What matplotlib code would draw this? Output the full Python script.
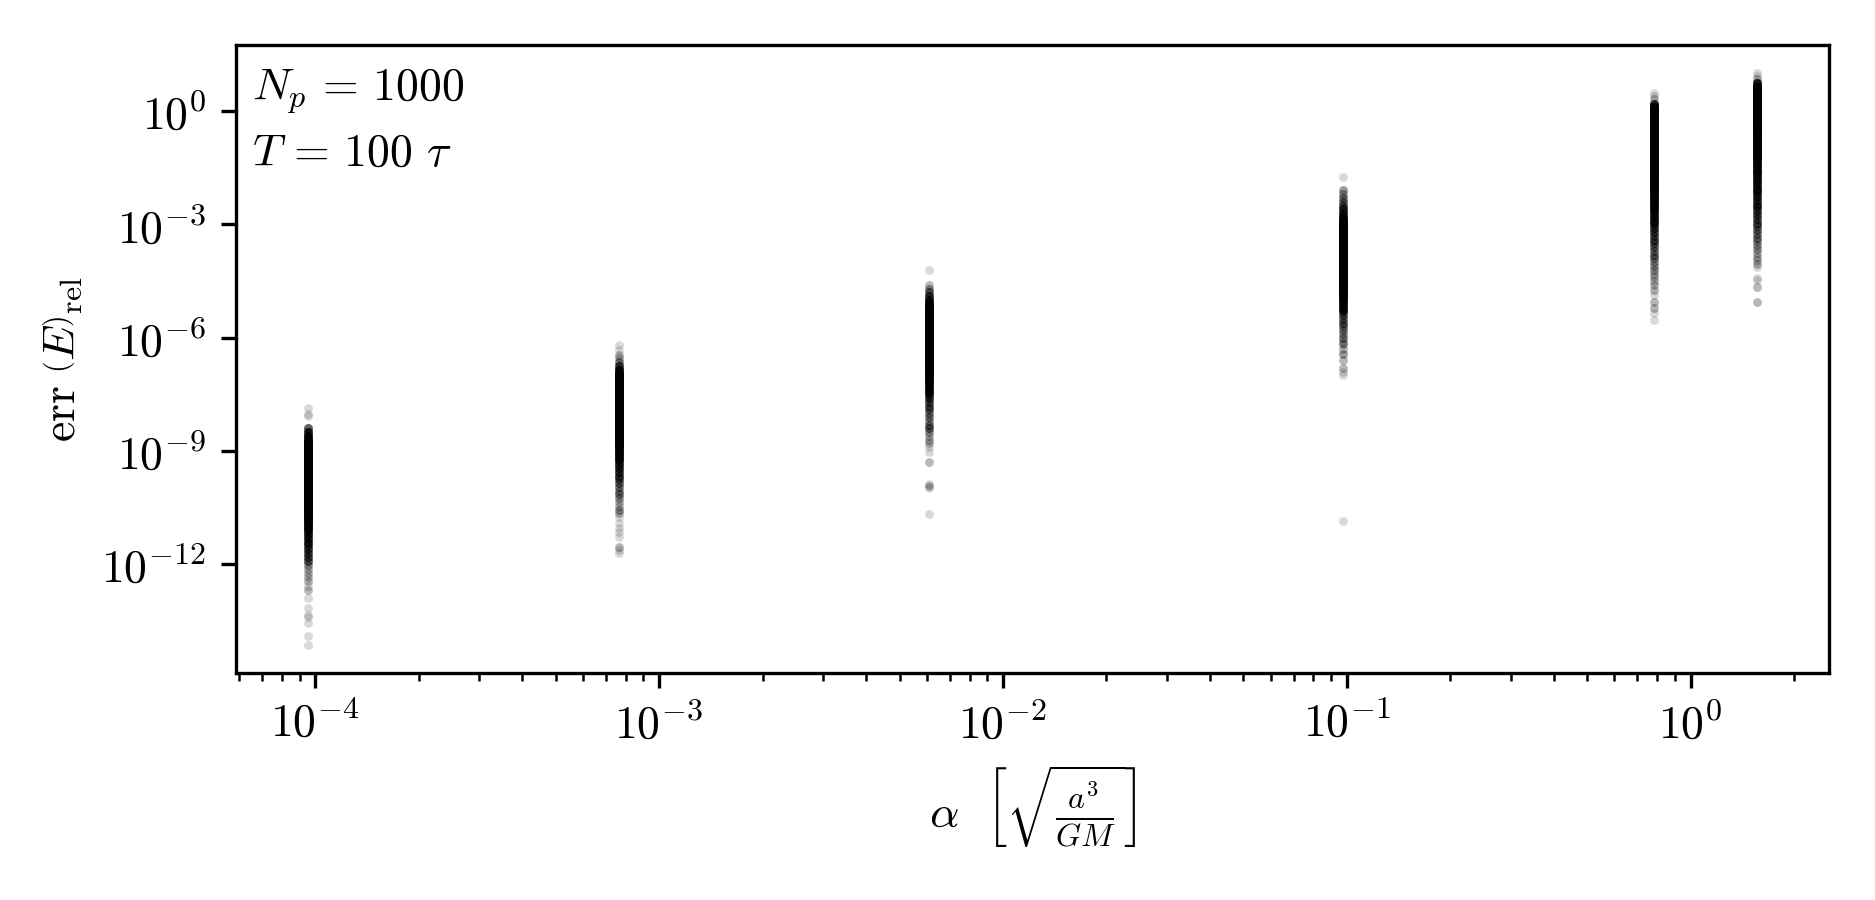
import numpy as np
import matplotlib
matplotlib.use("Agg")
import matplotlib.pyplot as plt
from matplotlib.ticker import FixedLocator, NullLocator

plt.rcParams['font.family'] = 'serif'
plt.rcParams['font.serif'] = ['cmr10']
plt.rcParams['mathtext.fontset'] = 'cm'
plt.rcParams['axes.formatter.use_mathtext'] = True
plt.rcParams['axes.unicode_minus'] = False
plt.rcParams['font.size'] = 11

# pas de temps alpha (en unites de sqrt(a^3/GM))
ALPHAS = [9.5367431640625e-05, 7.62939453125e-04, 6.103515625e-03,
          9.765625e-02, 0.78125, 1.5625]

# log10 de l'erreur relative sur l'energie, et nombre de particules
logs1 = [-7.87, -8.02, -8.06,
         -8.40, -8.50, -8.60, -8.70, -8.80, -8.90, -9.00, -9.10, -9.20,
         -9.30, -9.40, -9.50, -9.60, -9.70, -9.80, -9.90, -10.00, -10.10,
         -10.20, -10.30, -10.40, -10.50, -10.60, -10.70, -10.80, -10.90,
         -11.00, -11.10, -11.20, -11.30, -11.40, -11.50, -11.60, -11.70,
         -11.80, -11.90,
         -12.02, -12.12, -12.22, -12.33, -12.45, -12.58, -12.68, -12.90,
         -13.15, -13.33, -13.40, -13.55, -13.90, -14.14]
counts1 = [1, 1, 1,
           6, 10, 14, 18, 22, 26, 30, 34, 38, 40, 42, 44, 45, 45, 45, 44,
           42, 40, 38, 36, 33, 30, 27, 24, 21, 18, 15, 13, 11, 10, 9, 8, 8,
           7, 7, 6,
           3, 2, 2, 2, 2, 1, 2, 1, 1, 1, 1, 1, 1, 1]

logs2 = [-6.20, -6.32, -6.45, -6.55, -6.65,
         -6.75, -6.85, -6.95, -7.05, -7.15, -7.25, -7.35, -7.45, -7.55,
         -7.65, -7.75, -7.85, -7.95, -8.05, -8.15, -8.25, -8.35, -8.45,
         -8.55, -8.65, -8.75, -8.85, -8.95, -9.05, -9.15, -9.25, -9.35,
         -9.45, -9.55, -9.65, -9.75,
         -9.85, -9.95, -10.05, -10.15, -10.25, -10.35, -10.45, -10.55,
         -10.65, -10.75, -10.90, -11.05, -11.15, -11.28, -11.55, -11.62,
         -11.70]
counts2 = [1, 1, 2, 2, 4,
           8, 14, 20, 26, 32, 38, 42, 45, 48, 50, 50, 50, 48, 46, 43, 40,
           37, 34, 30, 27, 24, 21, 18, 16, 14, 12, 10, 9, 8, 7, 6,
           5, 4, 3, 4, 3, 2, 2, 3, 2, 1, 1, 1, 1, 1, 2, 1, 1]

logs3 = [-4.21, -4.60, -4.70, -4.80, -4.90,
         -5.00, -5.10, -5.20, -5.30, -5.40, -5.50, -5.60, -5.70, -5.80,
         -5.90, -6.00, -6.10, -6.20, -6.30, -6.40, -6.50, -6.60, -6.70,
         -6.80, -6.90, -7.00, -7.10, -7.20, -7.30, -7.40, -7.50, -7.60,
         -7.70, -7.80, -7.90, -8.00, -8.10, -8.20, -8.30, -8.40, -8.50,
         -8.60, -8.70, -8.80, -8.90, -9.03, -9.29, -9.86, -9.92, -9.99,
         -10.66]
counts3 = [1, 2, 3, 5, 8,
           12, 18, 24, 30, 36, 42, 46, 50, 52, 54, 54, 53, 51, 48, 45, 42,
           38, 34, 30, 26, 22, 19, 16, 14, 12, 10, 8,
           6, 5, 5, 4, 4, 3, 4, 5, 3, 2, 2, 2, 1, 1, 2, 1, 2, 1, 1]

logs4 = [-1.75,
         -2.10, -2.20, -2.30, -2.40, -2.50, -2.60, -2.70,
         -2.80, -2.90, -3.00, -3.10, -3.20, -3.30, -3.40, -3.50, -3.60,
         -3.70, -3.80, -3.90, -4.00, -4.10, -4.20, -4.30, -4.40, -4.50,
         -4.60, -4.70, -4.80, -4.90, -5.00, -5.10, -5.20, -5.30,
         -5.40, -5.50, -5.60, -5.70, -5.80, -5.90, -6.00, -6.10, -6.17,
         -6.30, -6.42, -6.59, -6.81, -6.90, -6.99, -10.86]
counts4 = [1,
           3, 3, 4, 5, 6, 8, 10,
           14, 20, 26, 32, 38, 42, 46, 48, 50, 50, 50, 48, 46, 44, 41, 38,
           35, 32, 28, 25, 22, 19, 16, 14, 12, 10,
           6, 5, 5, 4, 4, 3, 4, 2, 3, 2, 3, 2, 2, 1, 1, 1]

logs5 = [0.49, 0.40, 0.32,
         0.20, 0.10, 0.00, -0.10, -0.20, -0.30, -0.40, -0.50, -0.60, -0.70,
         -0.80, -0.90, -1.00, -1.10, -1.20, -1.30, -1.40, -1.50, -1.60,
         -1.70, -1.80, -1.90, -2.00, -2.10, -2.20, -2.30, -2.40, -2.50,
         -2.60, -2.70, -2.80, -2.90, -3.00, -3.10,
         -3.20, -3.30, -3.40, -3.50, -3.60, -3.70, -3.80, -3.90, -4.00,
         -4.10, -4.20, -4.30, -4.40, -4.50,
         -4.61, -4.74, -4.87, -5.06, -5.22, -5.35, -5.54]
counts5 = [1, 1, 2,
           10, 20, 30, 38, 44, 48, 50, 50, 50, 50, 48, 46, 44, 42, 40, 38,
           36, 33, 30, 28, 26, 24, 22, 20, 18, 16, 15, 14, 13, 12, 11, 10,
           9, 8,
           7, 6, 6, 5, 5, 4, 4, 4, 3, 3, 3, 2, 2, 2,
           2, 2, 1, 2, 2, 1, 1]

logs6 = [1.00, 0.92, 0.85,
         0.75, 0.65, 0.55, 0.45, 0.35, 0.25, 0.15, 0.05, -0.05, -0.15,
         -0.25, -0.35, -0.45, -0.55, -0.65, -0.75, -0.85, -0.95, -1.05,
         -1.15, -1.25, -1.35, -1.45, -1.55, -1.65, -1.75, -1.85, -1.95,
         -2.05, -2.15, -2.25, -2.35, -2.45, -2.55, -2.65, -2.75, -2.85,
         -2.95, -3.05, -3.15,
         -3.25, -3.35, -3.45, -3.55, -3.65, -3.75, -3.85, -3.95, -4.05,
         -4.13, -4.43, -4.48, -4.66, -5.06]
counts6 = [1, 1, 2,
           12, 25, 40, 50, 55, 55, 52, 48, 44, 40, 37, 34, 31, 28, 26, 24,
           22, 20, 19, 18, 17, 16, 15, 14, 13, 12, 12, 11, 10, 10, 9, 9, 8,
           8, 7, 7, 6, 6, 5, 5,
           4, 4, 3, 3, 3, 2, 2, 2, 2, 1, 1, 1, 2, 2]

LOGS = [logs1, logs2, logs3, logs4, logs5, logs6]
COUNTS = [counts1, counts2, counts3, counts4, counts5, counts6]


fig = plt.figure(figsize=(6.25, 3), dpi=300)
ax = fig.add_axes([0.1257, 0.2525, 0.85, 0.6975])

for alpha, lg, cnt in zip(ALPHAS, LOGS, COUNTS):
    err = 10.0 ** np.repeat(np.array(lg), cnt)
    x = np.full(err.size, alpha)
    ax.scatter(x, err, s=4.5, c='k', alpha=0.15, linewidths=0)

ax.set_xscale('log')
ax.set_yscale('log')
ax.set_xlim(10 ** -4.232, 10 ** 0.404)
ax.set_ylim(10 ** -14.87, 10 ** 1.75)
ax.yaxis.set_major_locator(FixedLocator([1e-12, 1e-9, 1e-6, 1e-3, 1e0]))
ax.yaxis.set_minor_locator(NullLocator())

ax.set_xlabel(r'$\alpha\ \ \left[\sqrt{\frac{a^3}{GM}}\right]$')
ax.set_ylabel(r'$\mathrm{err}\ \left(E\right)_\mathrm{rel}$')

ax.text(0.01, 0.965, r'$N_p\,=\,1000$', transform=ax.transAxes,
        va='top', ha='left')
ax.text(0.01, 0.86, r'$T\,=\,100\ \tau$', transform=ax.transAxes,
        va='top', ha='left')

fig.savefig('out.png', dpi=300)
